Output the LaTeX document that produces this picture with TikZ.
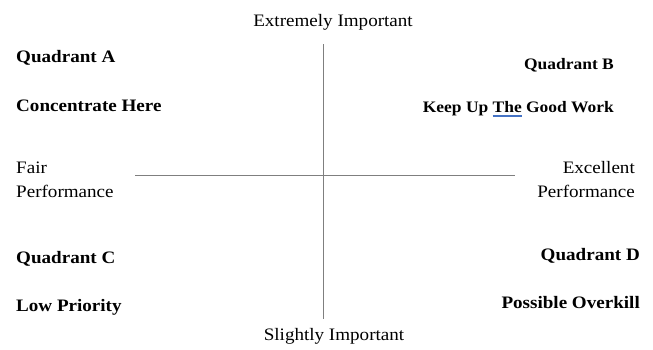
\documentclass[tikz,border=0pt]{standalone}
\usepackage{fontspec}
\setmainfont[FakeStretch=1.09]{Liberation Serif}
\definecolor{axisgray}{HTML}{7F7F7F}
\definecolor{ulblue}{HTML}{4472C4}
\newcommand\squig[1]{\setbox0\hbox{#1}\rlap{\color{ulblue}\rule[-5pt]{\wd0}{1.6pt}}\box0\relax}
\begin{document}
\begin{tikzpicture}[x=1pt,y=-1pt,
  lbl/.style={inner sep=0pt, font=\fontsize{17.5}{21}\selectfont},
  boldlbl/.style={inner sep=0pt, font=\fontsize{17.5}{21}\selectfont\bfseries},
  boldsm/.style={inner sep=0pt, font=\fontsize{16}{19}\selectfont\bfseries},
  axisline/.style={draw=axisgray, line width=1pt}]
\fill[white] (0,0) rectangle (653,349);
\useasboundingbox (0,0) rectangle (653,349);
% axes
\coordinate (top) at (323,44);
\coordinate (bot) at (323,319);
\coordinate (lft) at (135,175);
\coordinate (rgt) at (515,175);
\draw[axisline] (top) -- (bot);
\draw[axisline] (lft) -- (rgt);
% axis labels
\node[lbl, anchor=base] (ext) at (333,26) {Extremely Important};
\node[lbl, anchor=base] (sli) at (334,340) {Slightly Important};
\node[lbl, anchor=base west] (fair) at (16,173) {Fair};
\node[lbl, anchor=base west] (fairp) at (16,197) {Performance};
\node[lbl, anchor=base east] (exc) at (635,173) {Excellent};
\node[lbl, anchor=base east] (excp) at (635,197) {Performance};
% quadrants
\node[boldlbl, anchor=base west] (qa) at (16,62) {Quadrant A};
\node[boldlbl, anchor=base west] (qat) at (16,111) {Concentrate Here};
\node[boldsm, anchor=base east] (qb) at (614,69) {Quadrant B};
\node[boldsm, anchor=base east] (qbt) at (614,112) {Keep Up \squig{The} Good Work};
\node[boldlbl, anchor=base west] (qc) at (16,263) {Quadrant C};
\node[boldlbl, anchor=base west] (qct) at (16,311) {Low Priority};
\node[boldlbl, anchor=base east] (qd) at (640,260) {Quadrant D};
\node[boldlbl, anchor=base east] (qdt) at (640,308) {Possible Overkill};
\end{tikzpicture}
\end{document}
